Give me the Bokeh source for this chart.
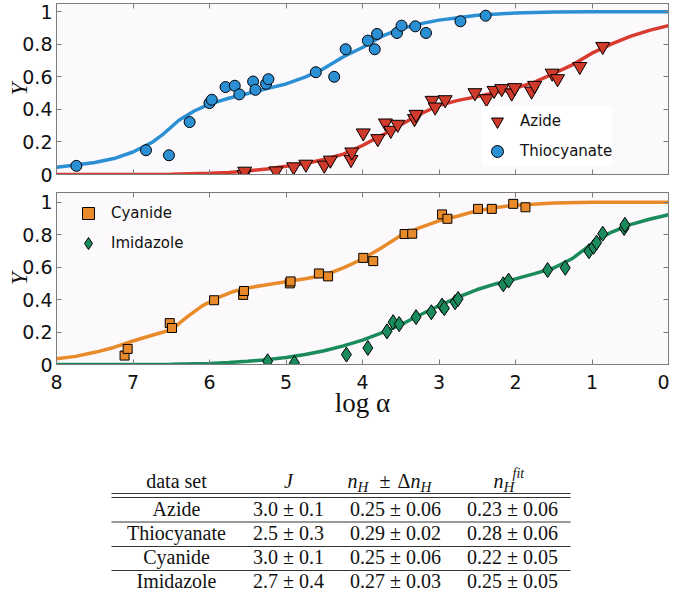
from bokeh.plotting import figure
from bokeh.models import (Range1d, LinearAxis, FixedTicker, Legend,
                          LegendItem, ColumnDataSource)
from bokeh.layouts import column
from bokeh.core.properties import value
from bokeh.embed import file_html
from bokeh.resources import INLINE

# ---------------- data ----------------
azide_x = [5.55, 5.54, 5.13, 4.90, 4.74, 4.50, 4.42, 4.15, 4.14, 3.99, 3.80, 3.70,
           3.63, 3.54, 3.32, 3.30, 3.09, 3.05, 2.92, 2.53, 2.38, 2.28, 2.18, 2.05,
           2.01, 1.79, 1.75, 1.52, 1.45, 1.16, 0.86]
azide_y = [0.00, 0.02, 0.022, 0.047, 0.063, 0.057, 0.088, 0.092, 0.138, 0.255, 0.22, 0.316,
           0.271, 0.308, 0.343, 0.369, 0.455, 0.414, 0.459, 0.502, 0.465, 0.516, 0.527, 0.50,
           0.533, 0.512, 0.547, 0.622, 0.588, 0.663, 0.786]

thio_x = [7.74, 6.83, 6.53, 6.26, 6.00, 5.97, 5.79, 5.67, 5.61, 5.43, 5.40, 5.26, 5.23,
          4.61, 4.37, 4.22, 3.93, 3.84, 3.81, 3.55, 3.49, 3.31, 3.17, 2.72, 2.39]
thio_y = [0.053, 0.149, 0.118, 0.322, 0.439, 0.459, 0.537, 0.545, 0.492, 0.571, 0.52, 0.557, 0.585,
          0.628, 0.60, 0.769, 0.822, 0.769, 0.863, 0.869, 0.914, 0.910, 0.869, 0.941, 0.975]

cyan_x = [7.11, 7.07, 6.52, 6.49, 5.94, 5.56, 5.55, 4.95, 4.94, 4.57, 4.45, 3.99, 3.86,
          3.45, 3.35, 2.96, 2.89, 2.49, 2.31, 2.03, 1.87]
cyan_y = [0.055, 0.096, 0.255, 0.225, 0.396, 0.429, 0.453, 0.50, 0.512, 0.561, 0.543, 0.657, 0.637,
          0.804, 0.806, 0.925, 0.898, 0.959, 0.959, 0.99, 0.969]

imid_x = [5.24, 4.89, 4.21, 3.93, 3.68, 3.60, 3.52, 3.30, 3.10, 2.96, 2.93, 2.79, 2.75,
          2.16, 2.09, 1.58, 1.35, 1.04, 0.98, 0.94, 0.86, 0.58, 0.57]
imid_y = [0.02, 0.01, 0.061, 0.102, 0.204, 0.261, 0.249, 0.292, 0.322, 0.363, 0.347, 0.384, 0.404,
          0.494, 0.517, 0.582, 0.596, 0.698, 0.725, 0.751, 0.806, 0.841, 0.861]

# fitted curves
thio_fit_x = [8.0, 7.75, 7.5, 7.25, 7.0, 6.75, 6.6, 6.4, 6.2, 6.0, 5.75, 5.5, 5.25, 5.0, 4.75,
              4.5, 4.25, 4.0, 3.75, 3.5, 3.25, 3.0, 2.75, 2.5, 2.0, 1.5, 1.0, 0.0]
thio_fit_y = [0.045, 0.058, 0.074, 0.098, 0.138, 0.197, 0.25, 0.333, 0.39, 0.432, 0.468, 0.497,
              0.527, 0.556, 0.598, 0.652, 0.723, 0.78, 0.848, 0.895, 0.925, 0.948, 0.963, 0.978,
              0.992, 0.998, 1.0, 1.0]

azide_fit_x = [8.0, 7.0, 6.5, 6.0, 5.75, 5.5, 5.25, 5.0, 4.75, 4.5, 4.25, 4.0, 3.75, 3.5, 3.25,
               3.0, 2.75, 2.5, 2.25, 2.0, 1.75, 1.5, 1.25, 1.0, 0.75, 0.5, 0.25, 0.0]
azide_fit_y = [0.0, 0.0, 0.002, 0.008, 0.013, 0.022, 0.034, 0.05, 0.068, 0.092, 0.125, 0.178,
               0.24, 0.305, 0.37, 0.425, 0.455, 0.478, 0.505, 0.53, 0.567, 0.62, 0.675, 0.745,
               0.80, 0.848, 0.885, 0.914]

cyan_fit_x = [8.0, 7.75, 7.5, 7.25, 7.0, 6.75, 6.5, 6.3, 6.1, 5.9, 5.7, 5.5, 5.25, 5.0, 4.75,
              4.5, 4.25, 4.0, 3.75, 3.5, 3.25, 3.0, 2.75, 2.5, 2.25, 2.0, 1.5, 1.0, 0.0]
cyan_fit_y = [0.035, 0.05, 0.075, 0.105, 0.145, 0.18, 0.214, 0.29, 0.36, 0.41, 0.448, 0.472,
              0.492, 0.51, 0.528, 0.55, 0.595, 0.65, 0.72, 0.795, 0.843, 0.885, 0.915, 0.948,
              0.968, 0.982, 0.995, 1.0, 1.0]

imid_fit_x = [8.0, 6.5, 6.0, 5.75, 5.5, 5.25, 5.0, 4.75, 4.5, 4.25, 4.0, 3.75, 3.5, 3.25, 3.0,
              2.75, 2.5, 2.25, 2.0, 1.75, 1.5, 1.25, 1.0, 0.75, 0.5, 0.25, 0.0]
imid_fit_y = [0.0, 0.002, 0.006, 0.012, 0.02, 0.03, 0.043, 0.062, 0.085, 0.115, 0.15, 0.195,
              0.245, 0.305, 0.362, 0.415, 0.462, 0.498, 0.528, 0.56, 0.595, 0.655, 0.745, 0.815,
              0.862, 0.895, 0.923]

x_ticks = [0, 1, 2, 3, 4, 5, 6, 7, 8]
x_tick_labels = ["0", "1", "2", "3", "4", "5", "6", "7", "8"]
y_ticks = [0, 0.2, 0.4, 0.6, 0.8, 1]
y_tick_labels = ["0", "0.2", "0.4", "0.6", "0.8", "1"]

table_sets = ["Azide", "Thiocyanate", "Cyanide", "Imidazole"]
table_J = ["3.0 \u00b1 0.1", "2.5 \u00b1 0.3", "3.0 \u00b1 0.1", "2.7 \u00b1 0.4"]
table_nH = ["0.25 \u00b1 0.06", "0.29 \u00b1 0.02", "0.25 \u00b1 0.06", "0.27 \u00b1 0.03"]
table_nfit = ["0.23 \u00b1 0.06", "0.28 \u00b1 0.06", "0.22 \u00b1 0.05", "0.25 \u00b1 0.05"]

# ---------------- styles ----------------
GRAY = "#7c7c7c"
BG = "#fbf9fb"
BLUE = "#2b8fd3"
RED = "#d83a2d"
RED_M = "#cf3a2b"
ORANGE = "#e98a2a"
GREEN = "#1b8a5c"
TICK_FONT = "DejaVu Sans"
SERIF = "Liberation Serif"
W = 669
BL = 56   # left border
BR = 1    # right border


def style_axis(ax, ticks, labels, show):
    ax.ticker = FixedTicker(ticks=ticks)
    ax.axis_line_color = GRAY
    ax.major_tick_line_color = GRAY
    ax.major_tick_in = 5
    ax.major_tick_out = 0
    ax.minor_tick_line_color = None
    ax.major_label_text_font = TICK_FONT
    ax.major_label_text_color = "#111111"
    ax.major_label_text_font_size = "19px"
    if show:
        ax.major_label_overrides = {t: l for t, l in zip(ticks, labels)}
    else:
        ax.major_label_overrides = {t: "" for t in ticks}
        ax.major_label_standoff = 0


def make_panel(height, border_top, border_bottom, y_max, show_x):
    p = figure(width=W, height=height, x_range=Range1d(8, 0), y_range=Range1d(0, y_max),
               output_backend="svg", toolbar_location=None,
               min_border_left=BL, min_border_right=BR,
               min_border_top=border_top, min_border_bottom=border_bottom,
               background_fill_color=BG, border_fill_color="white",
               outline_line_color=GRAY)
    p.grid.visible = False
    xb = p.below[0]
    yl = p.left[0]
    style_axis(xb, x_ticks, x_tick_labels, show_x)
    style_axis(yl, y_ticks, y_tick_labels, True)
    yl.major_label_standoff = 4
    yl.axis_label = "Y"
    yl.axis_label_text_font = SERIF
    yl.axis_label_text_font_style = "italic"
    yl.axis_label_text_font_size = "23px"
    yl.axis_label_text_color = "#111111"
    yl.axis_label_standoff = -13
    top_ax = LinearAxis()
    right_ax = LinearAxis()
    style_axis(top_ax, x_ticks, x_tick_labels, False)
    style_axis(right_ax, y_ticks, y_tick_labels, False)
    p.add_layout(top_ax, "above")
    p.add_layout(right_ax, "right")
    return p, xb


def make_legend(items, loc):
    return Legend(items=items, location=loc, glyph_width=30, glyph_height=30,
                  label_height=20, spacing=-8, padding=5, label_standoff=8, margin=0,
                  background_fill_color="white", background_fill_alpha=0.9,
                  border_line_color=None, label_text_font=TICK_FONT,
                  label_text_font_size="15px", label_text_color="#111111")


# ---------------- top panel ----------------
top, _ = make_panel(188, 3, 14, 1.05, False)
top.line(azide_fit_x, azide_fit_y, line_color=RED, line_width=3.5)
top.line(thio_fit_x, thio_fit_y, line_color=BLUE, line_width=3.5)
r_az = top.scatter(azide_x, azide_y, marker="inverted_triangle", size=14,
                   fill_color=RED_M, line_color="black", line_width=1)
r_th = top.scatter(thio_x, thio_y, marker="circle", size=11,
                   fill_color=BLUE, line_color="black", line_width=1)
leg1 = make_legend([LegendItem(label="Azide", renderers=[r_az]),
                    LegendItem(label="Thiocyanate", renderers=[r_th])], (426, 8))
top.add_layout(leg1, "center")

# ---------------- bottom panel ----------------
bot, bx = make_panel(232, 4, 55, 1.06, True)
bx.major_label_standoff = 10
bx.axis_label = "log \u03b1"
bx.axis_label_text_font = SERIF
bx.axis_label_text_font_style = "normal"
bx.axis_label_text_font_size = "27px"
bx.axis_label_text_color = "#111111"
bx.axis_label_standoff = -4
bot.line(cyan_fit_x, cyan_fit_y, line_color=ORANGE, line_width=3.5)
bot.line(imid_fit_x, imid_fit_y, line_color=GREEN, line_width=3.5)
r_cy = bot.scatter(cyan_x, cyan_y, marker="square", size=9,
                   fill_color=ORANGE, line_color="black", line_width=1)
r_im = bot.scatter(imid_x, imid_y, marker="diamond", size=15,
                   fill_color=GREEN, line_color="black", line_width=1)
leg2 = make_legend([LegendItem(label="Cyanide", renderers=[r_cy]),
                    LegendItem(label="Imidazole", renderers=[r_im])], (17, 106))
leg2.background_fill_alpha = 0.0
bot.add_layout(leg2, "center")

# ---------------- table ----------------
T0 = 188 + 232
TH = 591 - T0
tab = figure(width=W, height=TH, x_range=Range1d(BL, W - BR), y_range=Range1d(T0 + TH, T0),
             output_backend="svg", toolbar_location=None,
             min_border_left=BL, min_border_right=BR, min_border_top=0, min_border_bottom=0,
             outline_line_color=None, background_fill_color="white",
             border_fill_color="white")
tab.axis.visible = False
tab.grid.visible = False

row_y = [508.5, 532.5, 556.5, 580.5]
col_x = [176, 288, 395, 512]
for cx, vals in zip(col_x, [table_sets, table_J, table_nH, table_nfit]):
    src = ColumnDataSource(dict(x=[cx] * len(vals), y=row_y, t=vals))
    tab.text(x="x", y="y", text="t", source=src, text_font=value(SERIF),
             text_font_size="20px", text_align="center", text_baseline="middle",
             text_color="#111111")

# header pieces: (text, x, y, size, style, align)
hy = 480.5
hdr = [("data set", 176, hy, "20px", "normal", "center"),
       ("J", 288, hy, "20px", "italic", "center"),
       ("n", 347, hy, "20px", "italic", "left"),
       ("H", 357, hy + 5.5, "15px", "italic", "left"),
       ("\u00b1", 379, hy, "20px", "normal", "left"),
       ("\u0394", 397, hy, "20px", "normal", "left"),
       ("n", 410, hy, "20px", "italic", "left"),
       ("H", 420, hy + 5.5, "15px", "italic", "left"),
       ("n", 493, hy, "20px", "italic", "left"),
       ("H", 503, hy + 5.5, "15px", "italic", "left"),
       ("fit", 512, hy - 8, "14px", "italic", "left")]
for t, x, y, s, st, al in hdr:
    tab.text(x=[x], y=[y], text=[t], text_font=value(SERIF), text_font_size=s,
             text_font_style=st, text_align=al, text_baseline="middle",
             text_color="#111111")

for ly in [493, 497, 521.5, 546, 570]:
    tab.segment(x0=[111], y0=[ly], x1=[570], y1=[ly], line_color="#333333", line_width=1.2)

layout = column(top, bot, tab, spacing=0)
open("out.html", "w").write(file_html(layout, INLINE))
